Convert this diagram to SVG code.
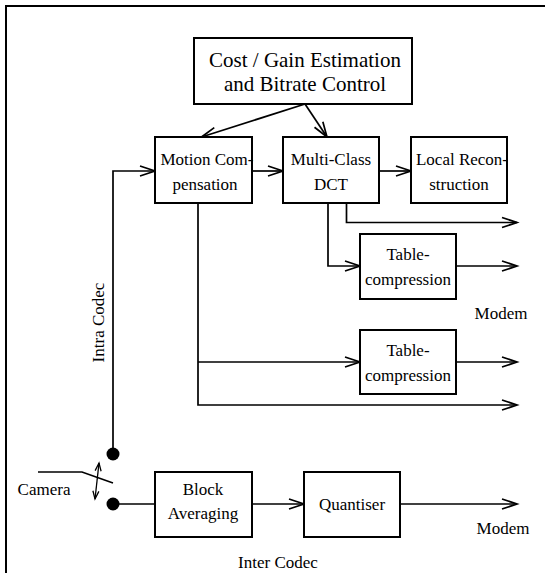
<svg xmlns="http://www.w3.org/2000/svg" width="545" height="573" viewBox="0 0 545 573">
<style>
.box{fill:#fff;stroke:#000;stroke-width:2}
.ln{fill:none;stroke:#000;stroke-width:1.7}
.t{font-family:"Liberation Serif","Times New Roman",serif;font-size:17px;fill:#000;text-anchor:middle}
.big{font-size:21px}
</style>
<defs>
<marker id="ah" markerUnits="userSpaceOnUse" markerWidth="18" markerHeight="12" refX="15" refY="5" orient="auto" overflow="visible">
<path d="M0,0 L15,5 L0,10" fill="none" stroke="#000" stroke-width="1.7"/>
</marker>
<marker id="sh" markerUnits="userSpaceOnUse" markerWidth="10" markerHeight="10" refX="8" refY="3" orient="auto-start-reverse" overflow="visible">
<path d="M0,0 L8,3 L0,6" fill="none" stroke="#000" stroke-width="1.3"/>
</marker>
</defs>
<rect width="545" height="573" fill="#fff"/>
<path d="M6,573 V6 H545" fill="none" stroke="#000" stroke-width="2"/>

<g id="connectors">
<path class="ln" d="M305,104 L201.5,137" marker-end="url(#ah)"/>
<path class="ln" d="M305,104 L327,137" marker-end="url(#ah)"/>
<path class="ln" d="M113,450 V171 H155" marker-end="url(#ah)"/>
<path class="ln" d="M252,171 H283" marker-end="url(#ah)"/>
<path class="ln" d="M379,171 H411" marker-end="url(#ah)"/>
<path class="ln" d="M346.5,203 V222.5 H517" marker-end="url(#ah)"/>
<path class="ln" d="M328,203 V266 H360" marker-end="url(#ah)"/>
<path class="ln" d="M456,266 H517" marker-end="url(#ah)"/>
<path class="ln" d="M198,203 V405 H517" marker-end="url(#ah)"/>
<path class="ln" d="M198,362 H360" marker-end="url(#ah)"/>
<path class="ln" d="M456,362 H517" marker-end="url(#ah)"/>
<path class="ln" d="M113,504 H155"/>
<path class="ln" d="M252,504 H304" marker-end="url(#ah)"/>
<path class="ln" d="M400,504 H517" marker-end="url(#ah)"/>
</g>

<g id="switch">
<circle cx="113" cy="454" r="6.5" fill="#000"/>
<circle cx="113" cy="504" r="6.5" fill="#000"/>
<path class="ln" d="M38,472 H82 L113,483"/>
<path d="M99,463 L95,499" fill="none" stroke="#000" stroke-width="1.3" marker-start="url(#sh)" marker-end="url(#sh)"/>
</g>

<g id="cost">
<rect class="box" x="194" y="38" width="218" height="66"/>
<text class="t big" x="305" y="66.5">Cost / Gain Estimation</text>
<text class="t big" x="305" y="90.5">and Bitrate Control</text>
</g>
<g id="motion">
<rect class="box" x="155" y="137" width="97" height="66"/>
<text class="t" x="207" y="165">Motion Com-</text>
<text class="t" x="205" y="190">pensation</text>
</g>
<g id="dct">
<rect class="box" x="283" y="137" width="96" height="66"/>
<text class="t" x="331" y="165">Multi-Class</text>
<text class="t" x="331" y="190">DCT</text>
</g>
<g id="local">
<rect class="box" x="411" y="137" width="96" height="66"/>
<text class="t" x="462" y="165">Local Recon-</text>
<text class="t" x="459" y="190">struction</text>
</g>
<g id="table1">
<rect class="box" x="360" y="234" width="96" height="65"/>
<text class="t" x="408" y="260">Table-</text>
<text class="t" x="408" y="285">compression</text>
</g>
<g id="table2">
<rect class="box" x="360" y="330" width="96" height="64"/>
<text class="t" x="408" y="356">Table-</text>
<text class="t" x="408" y="381">compression</text>
</g>
<g id="block">
<rect class="box" x="155" y="472" width="97" height="65"/>
<text class="t" x="203" y="495">Block</text>
<text class="t" x="203" y="519">Averaging</text>
</g>
<g id="quant">
<rect class="box" x="304" y="472" width="96" height="65"/>
<text class="t" x="352" y="510">Quantiser</text>
</g>
<g id="labels">
<text class="t" x="501" y="319">Modem</text>
<text class="t" x="503" y="534">Modem</text>
<text class="t" x="278" y="568">Inter Codec</text>
<text class="t" x="44" y="495">Camera</text>
<text class="t" transform="translate(104,322.5) rotate(-90)">Intra Codec</text>
</g>
</svg>
